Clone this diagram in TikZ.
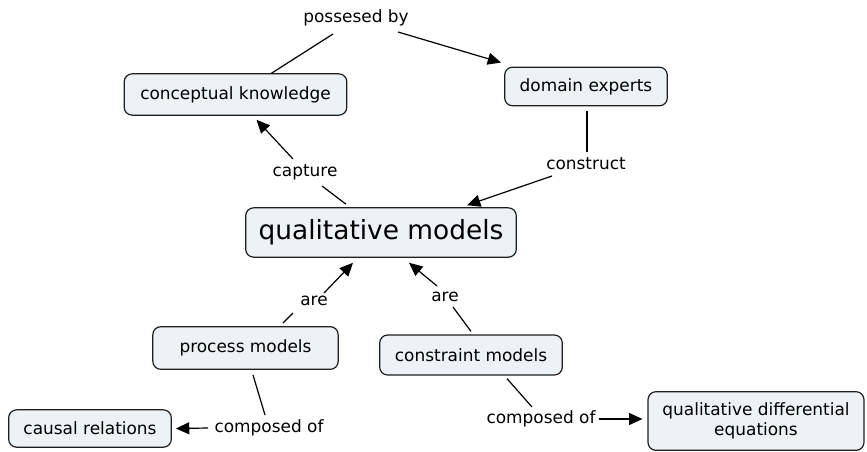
\documentclass[tikz,border=0pt]{standalone}
\usepackage{fontspec}
\setmainfont{DejaVu Sans}
\usepackage{xcolor}
\usepackage{tikz}
\usetikzlibrary{arrows.meta}

\definecolor{conceptfill}{RGB}{236,242,245}
\definecolor{conceptline}{RGB}{30,30,30}

\begin{document}
\begin{tikzpicture}[x=0.75pt,y=-0.75pt]
    \tikzstyle{concept}=[draw=conceptline, fill=conceptfill, rounded corners=6pt,
        line width=0.9pt, inner sep=2pt, font=\fontsize{12.7}{15}\selectfont]
    \tikzstyle{link}=[inner sep=1pt, font=\fontsize{12.7}{15}\selectfont]
    \tikzstyle{arr}=[-{Triangle[length=10pt,width=9pt]}]
\useasboundingbox (0,0) rectangle (867,451);

% concepts
\node[concept, minimum width=167pt, minimum height=31pt] (concept) at (235.5,94.5) {conceptual knowledge};
\node[concept, minimum width=122pt, minimum height=29pt] (domain) at (586,86.5) {domain experts};
\node[concept, minimum width=203pt, minimum height=37pt,
    font=\fontsize{19.8}{23}\selectfont] (qm) at (381,232.5) {qualitative models};
\node[concept, minimum width=139pt, minimum height=32pt] (process) at (245.5,348) {process models};
\node[concept, minimum width=137pt, minimum height=30pt] (constraint) at (471,355) {constraint models};
\node[concept, minimum width=122pt, minimum height=28pt] (causal) at (90,428.5) {causal relations};
\node[concept, minimum width=162pt, minimum height=44pt, align=center] (qde) at (756,421)
    {qualitative differential\\equations};

% linking phrases
\node[link] (poss) at (356,18) {possesed by};
\node[link] (capture) at (305,172) {capture};
\node[link] (construct) at (586,164) {construct};
\node[link] (are1) at (314,301) {are};
\node[link] (are2) at (445,297) {are};
\node[link] (comp1) at (269,428) {composed of};
\node[link] (comp2) at (541,419) {composed of};

% connectors
\draw[line width=0.9pt] ([shift={(-23,16)}]poss.center) -- ([shift={(36,0)}]concept.north);
\draw[line width=0.9pt, arr] ([shift={(42,14)}]poss.center) -- ([shift={(-3,-4)}]domain.north west);
\draw[line width=0.9pt] ([shift={(1,5)}]domain.south) -- ([shift={(1,-12)}]construct.center);
\draw[line width=0.9pt, arr] ([shift={(-34,12)}]construct.center) -- ([shift={(86,-2)}]qm.north);
\draw[line width=0.9pt, arr] ([shift={(-12,-13)}]capture.center) -- ([shift={(21,4)}]concept.south);
\draw[line width=0.9pt] ([shift={(17,14)}]capture.center) -- ([shift={(-35,-3)}]qm.north);
\draw[line width=0.9pt, arr] ([shift={(10,-8)}]are1.center) -- ([shift={(-28,5)}]qm.south);
\draw[line width=0.9pt] ([shift={(37.5,-3)}]process.north) -- ([shift={(-21,12)}]are1.center);
\draw[line width=0.9pt, arr] ([shift={(-8,-11)}]are2.center) -- ([shift={(28,5)}]qm.south);
\draw[line width=0.9pt] ([shift={(0,-3)}]constraint.north) -- ([shift={(8,10)}]are2.center);
\draw[line width=0.9pt] ([shift={(7.5,5)}]process.south) -- ([shift={(-4,-13)}]comp1.center);
\draw[line width=0.9pt, arr] ([shift={(-61,0)}]comp1.center) -- ([shift={(4,0)}]causal.east);
\draw[line width=0.9pt] ([shift={(36,3)}]constraint.south) -- ([shift={(-9,-12)}]comp2.center);
\draw[line width=0.9pt, arr] ([shift={(58,0)}]comp2.center) -- ([shift={(-5,-2)}]qde.west);
\end{tikzpicture}
\end{document}
